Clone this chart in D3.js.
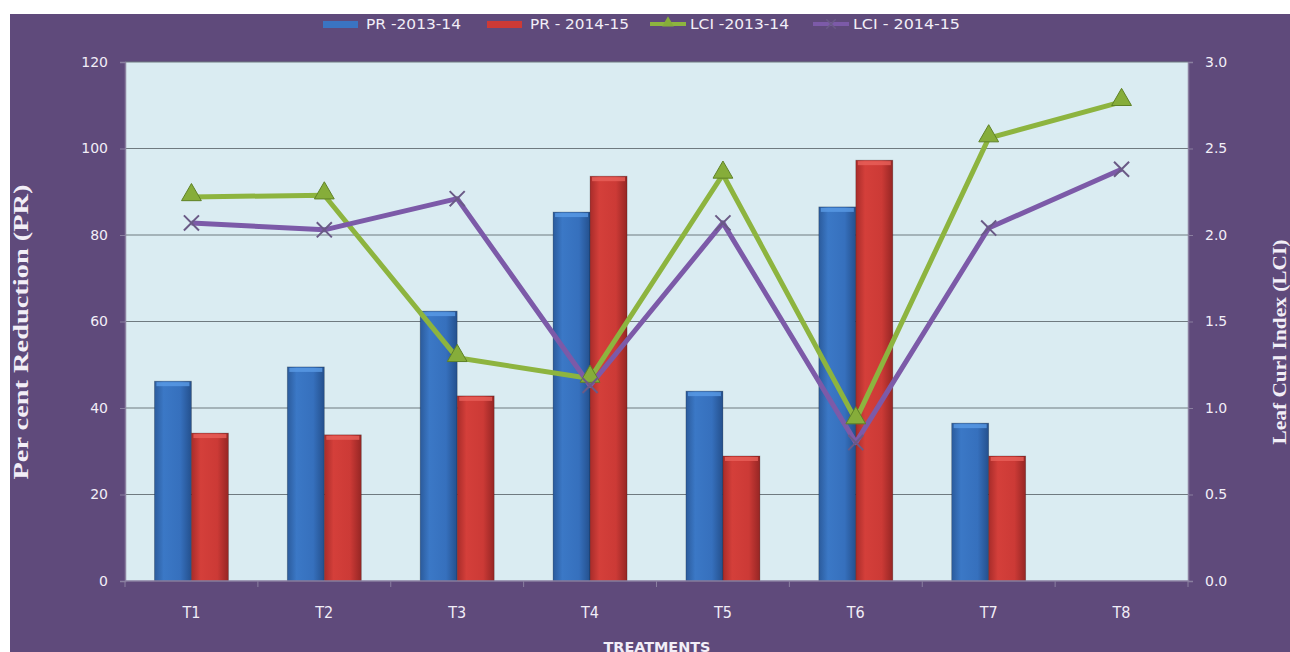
<!DOCTYPE html>
<html>
<head>
<meta charset="utf-8">
<script src="https://cdn.jsdelivr.net/npm/d3@7"></script>
<style>
  body { margin: 0; background: #fff; }
  svg { display: block; }
</style>
</head>
<body>
<script>
// data
var treatments = ['T1', 'T2', 'T3', 'T4', 'T5', 'T6', 'T7', 'T8'];
var pr2013 = [46.2, 49.5, 62.4, 85.3, 43.9, 86.5, 36.5, null];
var pr2014 = [34.2, 33.8, 42.8, 93.6, 28.9, 97.3, 28.9, null];
var lci2013 = [2.22, 2.23, 1.29, 1.17, 2.35, 0.93, 2.56, 2.77];
var lci2014 = [2.07, 2.03, 2.21, 1.13, 2.07, 0.80, 2.04, 2.38];
var leftTicks = [0, 20, 40, 60, 80, 100, 120];
var rightTicks = [0, 0.5, 1.0, 1.5, 2.0, 2.5, 3.0];

var width = 1290,
	height = 652;

var svg = d3.select('body')
	.append('svg')
	.attr('width', width)
	.attr('height', height);

var defs = svg.append('defs');

// horizontal gradients give the bars their rounded look
function barGradient(id, stops) {
	var g = defs.append('linearGradient').attr('id', id)
		.attr('x1', '0%').attr('x2', '100%').attr('y1', '0%').attr('y2', '0%');
	stops.forEach(function(s) {
		g.append('stop').attr('offset', s[0]).attr('stop-color', s[1]);
	});
}
barGradient('gBlue', [['0%', '#2b5b9c'], ['25%', '#3b78c6'], ['70%', '#3670bd'], ['100%', '#24508d']]);
barGradient('gRed', [['0%', '#a82c2a'], ['25%', '#d43f3a'], ['70%', '#cc3a36'], ['100%', '#962624']]);

var condensed = '"DejaVu Sans Condensed", "DejaVu Sans", sans-serif';

// purple frame
svg.append('rect')
	.attr('x', 10).attr('y', 14)
	.attr('width', width - 10).attr('height', height - 14)
	.attr('fill', '#5f4a7b');

var plot = { left: 125, right: 1188, top: 62, bottom: 581 };

var x = d3.scaleBand()
	.domain(treatments)
	.range([plot.left, plot.right]);

var yLeft = d3.scaleLinear().domain([0, 120]).range([plot.bottom, plot.top]);
var yRight = d3.scaleLinear().domain([0, 3]).range([plot.bottom, plot.top]);

// plot background
svg.append('rect')
	.attr('x', plot.left).attr('y', plot.top)
	.attr('width', plot.right - plot.left).attr('height', plot.bottom - plot.top)
	.attr('fill', '#daecf2');

// gridlines
svg.append('g')
	.selectAll('line')
	.data(leftTicks.filter(function(d) { return d > 0; }))
	.enter().append('line')
	.attr('x1', plot.left).attr('x2', plot.right)
	.attr('y1', function(d) { return yLeft(d); })
	.attr('y2', function(d) { return yLeft(d); })
	.attr('stroke', '#6f7a80')
	.attr('stroke-width', 1.2);

// bars
var barW = 37;
var bars = svg.append('g');
function drawBars(values, offset, fill, top) {
	var g = bars.append('g');
	var sel = g.selectAll('g')
		.data(values.map(function(v, i) { return { t: treatments[i], v: v }; })
			.filter(function(d) { return d.v != null; }))
		.enter().append('g');
	sel.append('rect')
		.attr('x', function(d) { return x(d.t) + x.bandwidth() / 2 + offset; })
		.attr('y', function(d) { return yLeft(d.v); })
		.attr('width', barW)
		.attr('height', function(d) { return plot.bottom - yLeft(d.v); })
		.attr('fill', 'url(#' + fill + ')')
		.attr('stroke', 'rgba(0,0,0,0.25)')
		.attr('stroke-width', 0.8);
	// bevel highlight on top
	sel.append('rect')
		.attr('x', function(d) { return x(d.t) + x.bandwidth() / 2 + offset + 2; })
		.attr('y', function(d) { return yLeft(d.v) + 1; })
		.attr('width', barW - 4)
		.attr('height', 4)
		.attr('fill', top)
		.attr('opacity', 0.8);
}
drawBars(pr2013, -barW, 'gBlue', '#5a9be6');
drawBars(pr2014, 0, 'gRed', '#e8605a');

// axes
var xAxis = svg.append('g')
	.attr('transform', 'translate(0,' + plot.bottom + ')');
xAxis.append('line')
	.attr('x1', plot.left).attr('x2', plot.right)
	.attr('stroke', '#8a7fa0').attr('stroke-width', 1.5);
xAxis.selectAll('.tk')
	.data(d3.range(treatments.length + 1))
	.enter().append('line')
	.attr('x1', function(i) { return plot.left + i * x.step(); })
	.attr('x2', function(i) { return plot.left + i * x.step(); })
	.attr('y1', 0).attr('y2', 6)
	.attr('stroke', '#8a7fa0');
xAxis.selectAll('text')
	.data(treatments)
	.enter().append('text')
	.attr('x', function(d) { return x(d) + x.bandwidth() / 2; })
	.attr('y', 37)
	.attr('text-anchor', 'middle')
	.attr('fill', '#f2eef7')
	.style('font-family', condensed)
	.style('font-size', '16px')
	.text(function(d) { return d; });

var leftAxis = svg.append('g')
	.attr('transform', 'translate(' + plot.left + ',0)')
	.call(d3.axisLeft(yLeft).tickValues(leftTicks).tickSize(5).tickPadding(12));
var rightAxis = svg.append('g')
	.attr('transform', 'translate(' + plot.right + ',0)')
	.call(d3.axisRight(yRight).tickValues(rightTicks).tickSize(5).tickPadding(12)
		.tickFormat(d3.format('.1f')));
[leftAxis, rightAxis].forEach(function(a) {
	a.select('.domain').attr('stroke', '#8a7fa0').attr('stroke-width', 1.5);
	a.selectAll('.tick line').attr('stroke', '#8a7fa0');
	a.selectAll('text')
		.attr('fill', '#f2eef7')
		.style('font-family', '"DejaVu Sans", sans-serif')
		.style('font-size', '14px');
});

// lines
var lineGen = d3.line()
	.x(function(d, i) { return x(treatments[i]) + x.bandwidth() / 2; })
	.y(function(d) { return yRight(d); });

svg.append('path')
	.datum(lci2013)
	.attr('d', lineGen)
	.attr('fill', 'none')
	.attr('stroke', '#8db43f')
	.attr('stroke-width', 5)
	.attr('stroke-linejoin', 'round');

svg.append('path')
	.datum(lci2014)
	.attr('d', lineGen)
	.attr('fill', 'none')
	.attr('stroke', '#7c5aa8')
	.attr('stroke-width', 5)
	.attr('stroke-linejoin', 'round');

// triangle markers
var tri = d3.symbol().type(d3.symbolTriangle).size(170);
svg.append('g')
	.selectAll('path')
	.data(lci2013)
	.enter().append('path')
	.attr('transform', function(d, i) {
		return 'translate(' + (x(treatments[i]) + x.bandwidth() / 2) + ',' + (yRight(d) - 2) + ')';
	})
	.attr('d', tri)
	.attr('fill', '#86ad3a')
	.attr('stroke', '#5f8227')
	.attr('stroke-width', 1);

// x markers
var cross = d3.symbol().type(d3.symbolX).size(150);
svg.append('g')
	.selectAll('path')
	.data(lci2014)
	.enter().append('path')
	.attr('transform', function(d, i) {
		return 'translate(' + (x(treatments[i]) + x.bandwidth() / 2) + ',' + yRight(d) + ')';
	})
	.attr('d', cross)
	.attr('fill', 'none')
	.attr('stroke', '#6a5a86')
	.attr('stroke-width', 2);

// axis titles
svg.append('text')
	.attr('transform', 'translate(28,332) rotate(-90)')
	.attr('text-anchor', 'middle')
	.attr('fill', '#f2eef7')
	.attr('textLength', 295)
	.attr('lengthAdjust', 'spacingAndGlyphs')
	.style('font-family', '"Liberation Serif", serif')
	.style('font-weight', 'bold')
	.style('font-size', '21px')
	.text('Per cent Reduction (PR)');

// the right title sits at the very edge, as in the original
svg.append('text')
	.attr('transform', 'translate(1286,342) rotate(-90)')
	.attr('text-anchor', 'middle')
	.attr('fill', '#f2eef7')
	.attr('textLength', 205)
	.attr('lengthAdjust', 'spacingAndGlyphs')
	.style('font-family', '"Liberation Serif", serif')
	.style('font-weight', 'bold')
	.style('font-size', '19px')
	.text('Leaf Curl Index (LCI)');

svg.append('text')
	.attr('x', 657).attr('y', 652)
	.attr('text-anchor', 'middle')
	.attr('fill', '#f2eef7')
	.attr('textLength', 107)
	.attr('lengthAdjust', 'spacingAndGlyphs')
	.style('font-family', condensed)
	.style('font-weight', 'bold')
	.style('font-size', '14px')
	.text('TREATMENTS');

// legend
var legendItems = [
	{ name: 'PR -2013-14', type: 'bar', color: '#3a74c2', x: 323, w: 95 },
	{ name: 'PR - 2014-15', type: 'bar', color: '#cc3a36', x: 487, w: 99 },
	{ name: 'LCI -2013-14', type: 'tri', color: '#8db43f', x: 650, w: 99 },
	{ name: 'LCI - 2014-15', type: 'x', color: '#7c5aa8', x: 813, w: 107 }
];
var legend = svg.append('g').attr('transform', 'translate(0,24)');
var li = legend.selectAll('g')
	.data(legendItems)
	.enter().append('g')
	.attr('transform', function(d) { return 'translate(' + d.x + ',0)'; });
li.filter(function(d) { return d.type === 'bar'; })
	.append('rect')
	.attr('x', 0).attr('y', -3).attr('width', 35).attr('height', 7)
	.attr('fill', function(d) { return d.color; });
li.filter(function(d) { return d.type !== 'bar'; })
	.append('line')
	.attr('x1', 0).attr('x2', 36)
	.attr('stroke', function(d) { return d.color; })
	.attr('stroke-width', 4);
li.filter(function(d) { return d.type === 'tri'; })
	.append('path')
	.attr('transform', 'translate(18,-1)')
	.attr('d', d3.symbol().type(d3.symbolTriangle).size(60))
	.attr('fill', '#86ad3a');
li.filter(function(d) { return d.type === 'x'; })
	.append('path')
	.attr('transform', 'translate(18,0)')
	.attr('d', d3.symbol().type(d3.symbolX).size(60))
	.attr('fill', 'none')
	.attr('stroke', '#6a5a86')
	.attr('stroke-width', 1.5);
li.append('text')
	.attr('x', function(d) { return d.type === 'bar' ? 43 : 40; })
	.attr('y', 5)
	.attr('fill', '#f2eef7')
	.attr('textLength', function(d) { return d.w; })
	.attr('lengthAdjust', 'spacingAndGlyphs')
	.style('font-family', condensed)
	.style('font-size', '14px')
	.text(function(d) { return d.name; });
</script>
</body>
</html>
